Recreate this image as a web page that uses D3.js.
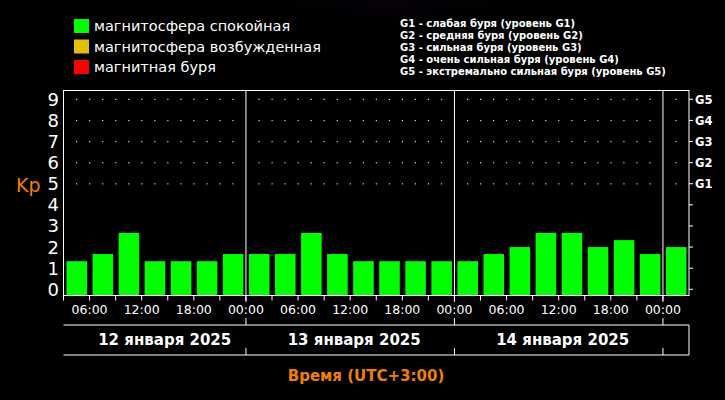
<!DOCTYPE html><html><head><meta charset="utf-8">
<script src="https://cdn.jsdelivr.net/npm/d3@7"></script>
<style>body{margin:0;background:#000}svg{display:block}</style></head><body>
<script>
const kpValues=[1.33,1.67,2.67,1.33,1.33,1.33,1.67, 1.67,1.67,2.67,1.67,1.33,1.33,1.33,1.33, 1.33,1.67,2,2.67,2.67,2,2.33,1.67, 2];
const startHour=3; // first bar starts 12 Jan 03:00
const dayLabels=["12 января 2025","13 января 2025","14 января 2025"];
const timeLabels=["06:00","12:00","18:00","00:00"];
const kpTicks=[0,1,2,3,4,5,6,7,8,9];
const gLabels=["G1","G2","G3","G4","G5"];
const legendItems=[["магнитосфера спокойная","#00ff00"],["магнитосфера возбужденная","#e0c000"],["магнитная буря","#ff0000"]];
const gDesc=["G1 - слабая буря (уровень G1)","G2 - средняя буря (уровень G2)","G3 - сильная буря (уровень G3)","G4 - очень сильная буря (уровень G4)","G5 - экстремально сильная буря (уровень G5)"];

const W=725,H=400,L=63.5,R=689,T=90.5,B=295.5;
const svg=d3.select("body").append("svg").attr("width",W).attr("height",H);
const defs=svg.append("defs");
const rg=defs.append("radialGradient").attr("id","glow").attr("cx","0.5").attr("cy","0").attr("r","0.6");
rg.append("stop").attr("offset","0").attr("stop-color","#2a0a3a");
rg.append("stop").attr("offset","1").attr("stop-color","#000");
svg.append("rect").attr("width",W).attr("height",H).attr("fill","#000");
svg.append("ellipse").attr("cx",390).attr("cy",0).attr("rx",200).attr("ry",90).attr("fill","url(#glow)");

const x=d3.scaleLinear().domain([startHour,startHour+72]).range([L,R]);
const y=d3.scaleLinear().domain([0,9]).range([289.3,99.3]);
const font="'DejaVu Sans', sans-serif";

legendItems.forEach((d,i)=>{
  svg.append("rect").attr("x",74).attr("y",19+i*20.5).attr("width",15).attr("height",14).attr("fill",d[1]);
  svg.append("text").attr("x",94).attr("y",31+i*20.5).attr("fill","#fff").attr("font-family",font).attr("font-size",14.5).text(d[0]);
});
gDesc.forEach((d,i)=>svg.append("text").attr("x",400).attr("y",27+i*12).attr("fill","#fff").attr("font-family",font).attr("font-size",10).attr("font-weight","bold").text(d));

svg.append("rect").attr("x",L).attr("y",T).attr("width",R-L).attr("height",B-T).attr("fill","none").attr("stroke","#fff");

for(let k=5;k<=9;k++){
  for(let h=startHour+1.5;h<startHour+72;h+=1.5){
    const xv=x(h); if(Math.abs(h%24)<0.01) continue;
    svg.append("rect").attr("x",xv-0.5).attr("y",y(k)-0.5).attr("width",1.2).attr("height",1.2).attr("fill","#ddd");
  }
}
svg.selectAll(".bar").data(kpValues).enter().append("rect")
  .attr("x",(d,i)=>x(startHour+i*3)+3).attr("width",x(3)-x(0)-5.5)
  .attr("y",d=>y(d)).attr("height",d=>B-0.5-y(d)).attr("fill","#00ff00");

[24,48,72].forEach(h=>{
  const xv=x(h);
  svg.append("line").attr("x1",xv).attr("x2",xv).attr("y1",T).attr("y2",302).attr("stroke","#fff");
  svg.append("line").attr("x1",xv).attr("x2",xv).attr("y1",318).attr("y2",325).attr("stroke","#fff");
  svg.append("line").attr("x1",xv).attr("x2",xv).attr("y1",348).attr("y2",355).attr("stroke","#fff");
});
svg.append("line").attr("x1",R).attr("x2",R).attr("y1",325).attr("y2",355).attr("stroke","#fff");

for(let h=startHour+3;h<startHour+72;h+=3){
  svg.append("line").attr("x1",x(h)).attr("x2",x(h)).attr("y1",B).attr("y2",B+5).attr("stroke","#fff");
}
svg.append("line").attr("x1",L).attr("x2",L).attr("y1",B).attr("y2",B+5).attr("stroke","#fff");
for(let h=6,i=0;h<startHour+72;h+=6,i++){
  svg.append("text").attr("x",x(h)).attr("y",314).attr("text-anchor","middle").attr("fill","#fff")
   .attr("font-family",font).attr("font-size",12.5).text(timeLabels[i%4]);
}
svg.append("line").attr("x1",L).attr("x2",R).attr("y1",325).attr("y2",325).attr("stroke","#fff");
svg.append("line").attr("x1",L).attr("x2",R).attr("y1",355).attr("y2",355).attr("stroke","#fff");
const dayOff=[10,4,4];
dayLabels.forEach((d,i)=>svg.append("text").attr("x",(x(i*24+(i?0:startHour))+x((i+1)*24))/2+dayOff[i]).attr("y",345)
  .attr("text-anchor","middle").attr("fill","#fff").attr("font-family",font).attr("font-weight","bold").attr("font-size",15).text(d));
svg.append("text").attr("x",366).attr("y",381).attr("text-anchor","middle").attr("fill","#f08000").attr("font-family",font).attr("font-weight","bold").attr("font-size",15).text("Время (UTC+3:00)");

kpTicks.forEach(k=>{
  svg.append("text").attr("x",59).attr("y",y(k)+6.5).attr("text-anchor","end").attr("fill","#fff").attr("font-family",font).attr("font-size",18).text(k);
  svg.append("line").attr("x1",R).attr("x2",R+4).attr("y1",y(k)).attr("y2",y(k)).attr("stroke","#fff");
});
svg.append("text").attr("x",16).attr("y",192).attr("fill","#f08000").attr("font-family",font).attr("font-size",19).text("Kp");
gLabels.forEach((g,i)=>svg.append("text").attr("x",695).attr("y",y(i+5)+4.5).attr("fill","#fff").attr("font-family",font).attr("font-weight","bold").attr("font-size",11.5).text(g));
</script></body></html>
